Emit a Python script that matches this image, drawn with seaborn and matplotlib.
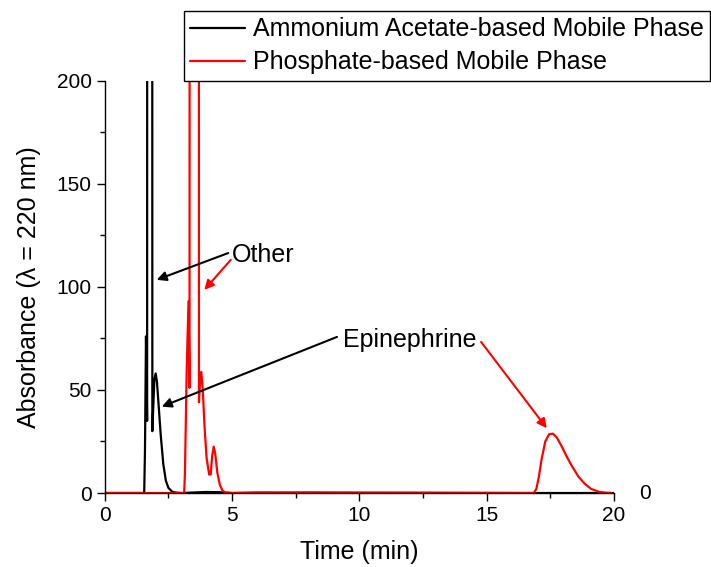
import matplotlib
matplotlib.use("Agg")
import matplotlib.pyplot as plt
import numpy as np
import pandas as pd
import seaborn as sns

# chromatogram traces (time in min, absorbance); off-scale values are clipped at 200
acetate_time = [0.0, 1.0, 1.55, 1.58, 1.62, 1.665, 1.68, 1.77, 1.85, 1.87, 1.90, 1.95, 2.00,
                2.05, 2.12, 2.20, 2.30, 2.40, 2.50, 2.65, 2.80, 3.0, 4.0, 4.5, 5.0, 6.0, 10.0, 15.0, 20.0]
acetate_abs = [0.0, 0.0, 0.0, 20.0, 76.0, 35.0, 1500.0, 2000.0, 1500.0, 30.0, 40.0, 55.0, 58.0,
               54.0, 42.0, 28.0, 14.0, 6.0, 2.5, 0.6, 0.2, 0.0, 0.5, 0.4, 0.0, 0.2, 0.0, 0.0, 0.0]

phosphate_time = [0.0, 1.0, 3.12, 3.15, 3.22, 3.29, 3.33, 3.36, 3.52, 3.68, 3.70, 3.75, 3.79,
                  3.85, 3.92, 4.00, 4.10, 4.16, 4.22, 4.28, 4.34, 4.42, 4.52, 4.62, 4.75, 5.0,
                  8.0, 12.0, 16.85, 16.95, 17.05, 17.15, 17.30, 17.45, 17.60, 17.75, 17.95,
                  18.15, 18.35, 18.60, 18.85, 19.10, 19.40, 19.70, 19.90]
phosphate_abs = [0.0, 0.0, 0.0, 10.0, 60.0, 93.0, 51.0, 1500.0, 2000.0, 1500.0, 44.0, 56.0, 58.7,
                 50.0, 32.0, 17.0, 9.0, 9.0, 18.0, 22.5, 19.0, 10.0, 4.0, 1.2, 0.2, 0.0,
                 0.3, 0.2, 0.0, 2.0, 8.0, 16.0, 25.0, 28.5, 28.8, 27.0, 22.5,
                 17.5, 13.0, 8.0, 4.5, 2.0, 0.6, 0.1, 0.0]

series_labels = ["Ammonium Acetate-based Mobile Phase", "Phosphate-based Mobile Phase"]

df = pd.concat([
    pd.DataFrame({"Time": acetate_time, "Abs": acetate_abs, "Phase": series_labels[0]}),
    pd.DataFrame({"Time": phosphate_time, "Abs": phosphate_abs, "Phase": series_labels[1]}),
], ignore_index=True)

sns.set_style("ticks")
plt.rcParams["font.family"] = ["Liberation Sans", "DejaVu Sans"]
plt.rcParams["text.color"] = "black"
plt.rcParams["axes.labelcolor"] = "black"
plt.rcParams["xtick.color"] = "black"
plt.rcParams["ytick.color"] = "black"

fig = plt.figure(figsize=(7.11, 5.67), dpi=100)
ax = fig.add_axes([0.1473, 0.1305, 0.7163, 0.7272])

sns.lineplot(data=df, x="Time", y="Abs", hue="Phase", palette=["black", "red"],
             sort=False, estimator=None, linewidth=1.6, ax=ax, legend=False)

ax.set_xlim(0, 20)
ax.set_ylim(0, 200)
ax.set_xticks([0, 5, 10, 15, 20])
ax.set_yticks([0, 50, 100, 150, 200])
ax.set_xticks(np.arange(0, 20.1, 2.5), minor=True)
ax.set_yticks(np.arange(0, 201, 25), minor=True)
ax.tick_params(which="major", direction="out", length=5.8, width=1, labelsize=15, pad=3.5)
ax.tick_params(which="minor", direction="out", length=3.3, width=1)
sns.despine(ax=ax)
for s in ["left", "bottom"]:
    ax.spines[s].set_color("black")
    ax.spines[s].set_linewidth(1)

ax.set_xlabel("Time (min)", fontsize=18, labelpad=10.5)
ax.set_ylabel("Absorbance (λ = 220 nm)", fontsize=18, labelpad=11)

# right-hand zero label
ax.text(1.061, 0, "0", transform=ax.transAxes, ha="center", va="center", fontsize=15)

# peak annotations
ax.text(5.0, 115.5, "Other", fontsize=18, ha="left", va="center")
ax.annotate("", xy=(2.04, 103.4), xytext=(4.85, 116.4),
            arrowprops=dict(arrowstyle="-|>", color="black", lw=1.5, mutation_scale=14, shrinkA=0, shrinkB=0))
ax.annotate("", xy=(3.91, 98.5), xytext=(4.95, 113.1),
            arrowprops=dict(arrowstyle="-|>", color="red", lw=1.5, mutation_scale=14, shrinkA=0, shrinkB=0))

ax.text(9.36, 74.3, "Epinephrine", fontsize=18, ha="left", va="center")
ax.annotate("", xy=(2.24, 41.9), xytext=(9.12, 75.7),
            arrowprops=dict(arrowstyle="-|>", color="black", lw=1.5, mutation_scale=14, shrinkA=0, shrinkB=0))
ax.annotate("", xy=(17.36, 31.4), xytext=(14.78, 73.3),
            arrowprops=dict(arrowstyle="-|>", color="red", lw=1.5, mutation_scale=14, shrinkA=0, shrinkB=0))

handles = [plt.Line2D([], [], color="black", lw=1.6), plt.Line2D([], [], color="red", lw=1.6)]
leg = fig.legend(handles, series_labels, loc="upper left", bbox_to_anchor=(184 / 711, 1 - 11 / 567),
                 fontsize=18, frameon=True, fancybox=False, edgecolor="black", framealpha=1,
                 handlelength=2.2, handletextpad=0.3, labelspacing=0.37, borderpad=0.25,
                 borderaxespad=0)
leg.get_frame().set_linewidth(1)

fig.savefig("out.png", dpi=100)
